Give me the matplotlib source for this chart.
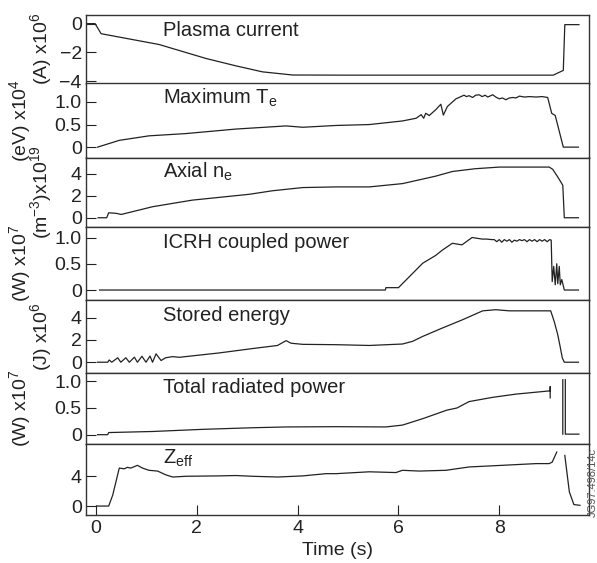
import numpy as np
import matplotlib.pyplot as plt

plt.rcParams['font.family'] = 'Liberation Sans'
plt.rcParams['mathtext.fontset'] = 'custom'
plt.rcParams['mathtext.rm'] = 'Liberation Sans'
plt.rcParams['mathtext.it'] = 'Liberation Sans:italic'

nan = np.nan

# Plasma current (A x1e6)
t_ip = [-0.2, -0.02, 0.10, 1.25, 2.18, 2.77, 3.30, 3.90, 5.0, 7.0, 9.07, 9.27, 9.30, 9.58]
ip = [0, 0, -0.7, -1.45, -2.42, -2.93, -3.35, -3.57, -3.58, -3.58, -3.58, -3.25, -0.07, -0.07]

# Maximum Te (eV x1e4)
t_te = [0.03, 0.46, 1.05, 1.78, 2.77, 3.77, 4.10, 4.76, 5.42, 6.08, 6.35, 6.45, 6.50, 6.54,
        6.61, 6.74, 6.84, 6.89, 6.97, 7.14, 7.30, 7.35, 7.40, 7.47, 7.53, 7.60, 7.66, 7.72,
        7.77, 7.83, 7.87, 7.93, 8.00, 8.06, 8.13, 8.20, 8.27, 8.33, 8.40, 8.50, 8.60, 8.73,
        8.85, 8.96, 9.04, 9.11, 9.27, 9.57]
te = [0, 0.15, 0.25, 0.30, 0.40, 0.47, 0.44, 0.48, 0.50, 0.58, 0.64, 0.72, 0.64, 0.75,
      0.70, 0.83, 0.95, 0.71, 0.90, 1.07, 1.15, 1.12, 1.14, 1.10, 1.15, 1.16, 1.12, 1.15,
      1.11, 1.14, 1.16, 1.11, 1.07, 1.09, 1.05, 1.09, 1.10, 1.09, 1.13, 1.11, 1.12, 1.11,
      1.12, 1.10, 0.75, 0.70, 0, 0]

# Axial ne (m^-3 x1e19)
t_ne = [0.04, 0.21, 0.25, 0.40, 0.50, 1.12, 1.91, 3.04, 3.50, 4.10, 4.76, 5.42, 6.08,
        6.74, 7.07, 7.52, 8.00, 8.99, 9.06, 9.16, 9.26, 9.29, 9.57]
ne = [0, 0, 0.45, 0.40, 0.30, 1.0, 1.6, 2.13, 2.45, 2.74, 2.8, 2.8, 3.1,
      3.78, 4.2, 4.45, 4.6, 4.6, 4.4, 3.7, 2.95, 0, 0]

# ICRH coupled power (W x1e7)
t_icrh = [0.07, 5.74, 5.75, 6.00, 6.48, 6.74, 6.87, 7.07, 7.26, 7.46, 7.66, 7.75, 7.85,
          7.90, 7.95, 8.00, 8.05, 8.10, 8.15, 8.20, 8.25, 8.30, 8.35, 8.40, 8.45, 8.50,
          8.55, 8.60, 8.65, 8.70, 8.75, 8.80, 8.85, 8.90, 8.95, 9.00, 9.03, 9.05, 9.08,
          9.11, 9.14, 9.16, 9.19, 9.21, 9.24, 9.29, 9.57]
icrh = [0, 0, 0.045, 0.045, 0.51, 0.66, 0.76, 0.89, 0.86, 1.0, 0.97, 0.97, 0.96,
        0.96, 0.92, 0.96, 0.91, 0.96, 0.93, 0.96, 0.91, 0.95, 0.93, 0.96, 0.94, 0.96,
        0.92, 0.96, 0.93, 0.96, 0.92, 0.96, 0.93, 0.96, 0.92, 0.96, 0.95, 0.16, 0.45,
        0.10, 0.50, 0.12, 0.45, 0.10, 0.20, 0, 0]

# Stored energy (J x1e6)
t_we = [0.03, 0.23, 0.26, 0.31, 0.43, 0.49, 0.59, 0.66, 0.76, 0.82, 0.91, 0.99, 1.07,
        1.12, 1.19, 1.29, 1.38, 1.52, 1.65, 2.44, 3.10, 3.60, 3.77, 3.87, 4.10, 4.76,
        5.42, 6.08, 6.28, 6.48, 6.87, 7.27, 7.67, 7.93, 8.20, 9.02, 9.09, 9.16, 9.20,
        9.25, 9.29, 9.57]
we = [0, 0, 0.2, 0, 0.4, 0, 0.4, 0, 0.45, 0, 0.53, 0, 0.55,
      0, 0.75, 0.15, 0.4, 0.5, 0.44, 0.83, 1.22, 1.5, 1.93, 1.7, 1.6, 1.57,
      1.5, 1.63, 1.87, 2.31, 3.06, 3.8, 4.6, 4.7, 4.6, 4.6, 3.64, 2.46, 1.57,
      0.39, 0, 0]

# Total radiated power (W x1e7)
t_prad = [0.03, 0.23, 0.25, 1.12, 2.11, 3.10, 3.77, 4.76, 5.75, 6.08, 6.48, 6.96, 7.16,
          7.40, 7.87, 8.33, 8.99, 9.01, 9.01, 9.01, nan, 9.26, 9.26, nan, 9.31, 9.31, 9.58]
prad = [0, 0, 0.04, 0.06, 0.10, 0.13, 0.145, 0.15, 0.145, 0.18, 0.30, 0.46, 0.50,
        0.62, 0.70, 0.76, 0.82, 0.82, 0.90, 0.69, nan, 1.03, 0.01, nan, 1.03, 0.01, 0.01]

# Zeff
t_z = [0.01, 0.25, 0.33, 0.46, 0.56, 0.62, 0.69, 0.82, 0.92, 1.05, 1.22, 1.38, 1.52,
       1.78, 2.44, 2.77, 3.10, 3.60, 4.10, 4.56, 4.76, 5.42, 5.95, 6.08, 6.41, 6.94,
       7.40, 8.06, 8.73, 8.99, 9.05, 9.14, nan, 9.30, 9.39, 9.48, 9.60]
z = [0, 0, 1.47, 5.1, 5.0, 5.2, 5.1, 5.47, 5.1, 4.8, 4.7, 4.2, 3.9,
     4.0, 4.05, 4.1, 4.0, 3.9, 4.05, 4.35, 4.35, 4.6, 4.5, 4.8, 4.7, 4.8,
     5.25, 5.47, 5.7, 5.7, 5.9, 7.25, nan, 6.8, 1.9, 0.2, 0.1]

series = [(t_ip, ip), (t_te, te), (t_ne, ne), (t_icrh, icrh),
          (t_we, we), (t_prad, prad), (t_z, z)]
titles = ['Plasma current', r'Maximum $\mathrm{T_e}$', r'Axial $\mathrm{n_e}$',
          'ICRH coupled power', 'Stored energy', 'Total radiated power',
          r'$\mathrm{Z_{eff}}$']
ylabels = [r'(A) x$10^{6}$', r'(eV) x$10^{4}$', r'($\mathrm{m}^{-3}$)x$10^{19}$',
           r'(W) x$10^{7}$', r'(J) x$10^{6}$', r'(W) x$10^{7}$', '']
yticks = [[0, -2, -4], [0, 0.5, 1.0], [0, 2, 4], [0, 0.5, 1.0],
          [0, 2, 4], [0, 0.5, 1.0], [0, 4]]
yticklabels = [['0', '\u22122', '\u22124'], ['0', '0.5', '1.0'], ['0', '2', '4'],
               ['0', '0.5', '1.0'], ['0', '2', '4'], ['0', '0.5', '1.0'], ['0', '4']]
ylims = [(-4.16, 0.6), (-0.23, 1.41), (-0.84, 5.47), (-0.19, 1.2),
         (-0.92, 5.57), (-0.165, 1.165), (-1.2, 8.4)]

W, H = 597, 563
left, right = 86, 588.5
edges = [15, 83.5, 157.5, 227, 300, 372.5, 443.5, 515]
ink = '#222222'

fig = plt.figure(figsize=(W / 100, H / 100), dpi=100)
axes = []
for i in range(7):
    top, bot = edges[i], edges[i + 1]
    ax = fig.add_axes([left / W, 1 - bot / H, (right - left) / W, (bot - top) / H])
    t, v = series[i]
    ax.plot(t, v, color=ink, lw=0.9)
    ax.set_xlim(-0.2, 9.77)
    ax.set_ylim(*ylims[i])
    ax.set_yticks(yticks[i])
    ax.set_yticklabels(yticklabels[i])
    ax.tick_params(axis='y', direction='in', length=7.5, width=0.8, labelsize=14,
                   pad=3, colors=ink)
    for s in ax.spines.values():
        s.set_color('#333333')
        s.set_linewidth(1.0)
    ax.annotate(titles[i], xy=(0.1538, 1), xycoords='axes fraction',
                xytext=(0, -14.8), textcoords='offset points',
                va='baseline', ha='left', fontsize=14.5, color=ink)
    if ylabels[i]:
        ax.set_ylabel(ylabels[i], fontsize=14, color=ink)
        ax.yaxis.set_label_coords(-0.064 if i % 2 == 0 else -0.106, 0.5)
    if i < 6:
        ax.tick_params(axis='x', bottom=False, labelbottom=False)
    axes.append(ax)

ax = axes[-1]
ax.set_xticks([0, 2, 4, 6, 8])
ax.tick_params(axis='x', direction='in', length=7.5, width=0.8, labelsize=14,
               pad=3.5, colors=ink)
ax.set_xlabel('Time (s)', fontsize=14, color=ink, labelpad=4)

fig.text(593 / W, 1 - 482 / H, 'JG97.498/14c', rotation=90, fontsize=8,
         ha='center', va='center', color='#555555')

fig.savefig('out.png', dpi=100)
